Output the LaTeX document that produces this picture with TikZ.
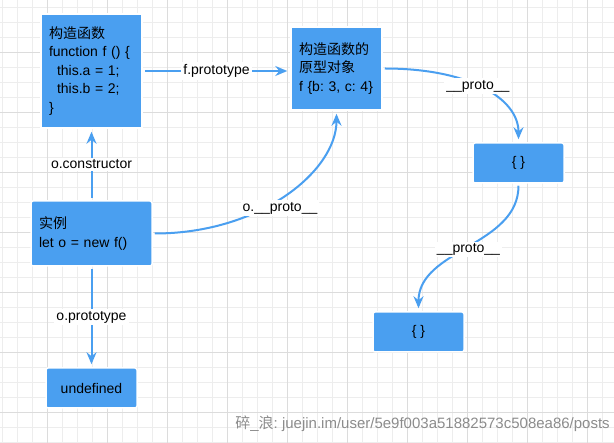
\documentclass[tikz,border=0pt]{standalone}
\usepackage{fontspec}
\setmainfont{Liberation Sans}
\newfontfamily\cjk{Noto Sans CJK SC}
\usepackage{tikz}
\usetikzlibrary{arrows.meta}
\definecolor{boxblue}{HTML}{4A9FF0}
\definecolor{gridminor}{HTML}{EDEDED}
\definecolor{gridmajor}{HTML}{DCDCDC}
\definecolor{markgray}{HTML}{8C8C8C}
\frenchspacing

\begin{document}
\begin{tikzpicture}[x=1pt, y=-1pt,
    blockbox/.style={fill=boxblue, draw=white, line width=1.5pt, inner xsep=8pt, inner ysep=0pt, align=left, font=\fontsize{14pt}{18.5pt}\selectfont},
    roundbox/.style={blockbox, rounded corners=2pt},
    link/.style={draw=boxblue, line width=2pt, shorten <=2pt, shorten >=3pt, -{Stealth[length=12pt, width=10pt, inset=4pt]}},
    linklabel/.style={fill=white, inner sep=2pt, font=\fontsize{14pt}{16pt}\selectfont}]
    \useasboundingbox (0,0) rectangle (614,443);
    \fill[white] (0,0) rectangle (614,443);

    % Grid
    \begin{scope}
        \clip (0,0) rectangle (614,443);
        \foreach \gx in {0,...,40}
            \draw[gridminor, line width=1pt] ({2.3+15*\gx},0) -- ++(0,443);
        \foreach \gy in {0,...,29}
            \draw[gridminor, line width=1pt] (0,{7.3+15*\gy}) -- ++(614,0);
        \foreach \gx in {0,...,9}
            \draw[gridmajor, line width=1pt] ({47.3+60*\gx},0) -- ++(0,443);
        \foreach \gy in {0,...,6}
            \draw[gridmajor, line width=1pt] (0,{52.3+60*\gy}) -- ++(614,0);
    \end{scope}

    % Boxes
    \node[blockbox, text width=85pt, minimum height=114pt] (ctor) at (91.5,71)
        {{\cjk 构造函数}\\function f () \{\\\hspace*{8pt}this.a = 1;\\\hspace*{8pt}this.b = 2;\\\}};
    \node[blockbox, text width=75pt, minimum height=83pt] (proto) at (336.5,68.5)
        {{\cjk 构造函数的}\\{\cjk 原型对象}\\f \{b: 3, c: 4\}};
    \node[roundbox, text width=105pt, minimum height=65pt] (inst) at (91.5,233.5)
        {{\cjk 实例}\\let o = new f()};
    \node[roundbox, minimum width=91pt, minimum height=40pt] (undef) at (91.5,388) {undefined};
    \node[roundbox, minimum width=91pt, minimum height=40pt] (objA) at (518.5,163) {\{ \}};
    \node[roundbox, minimum width=91pt, minimum height=40pt] (objB) at (418.5,332) {\{ \}};

    % Links
    \draw[link] (ctor.east) -- node[linklabel] {f.prototype} (ctor.east -| proto.west);
    \draw[link] (inst.north) -- node[linklabel] {o.constructor} (ctor.south);
    \draw[link] (inst.south) -- node[linklabel] {o.prototype} (undef.north);
    \draw[link] (inst.east) .. controls +(108,0) and +(0,60) ..
        node[linklabel, pos=0.45, xshift=5pt, yshift=-7pt] {o.\_\_proto\_\_} (proto.south);
    \draw[link] (proto.east) .. controls +(88,0) and +(0,-43) ..
        node[linklabel, pos=0.46] {\_\_proto\_\_} (objA.north);
    \draw[link] (objA.south) .. controls +(0,62) and +(0,-62) ..
        node[linklabel, pos=0.5, yshift=-2pt] {\_\_proto\_\_} (objB.north);

    % Watermark
    \node[text=markgray, anchor=east, inner sep=0pt, font=\fontsize{15pt}{18pt}\selectfont] (mark) at (610,424)
        {{\cjk 碎}\_{\cjk 浪}: juejin.im/user/5e9f003a51882573c508ea86/posts};
\end{tikzpicture}
\end{document}
